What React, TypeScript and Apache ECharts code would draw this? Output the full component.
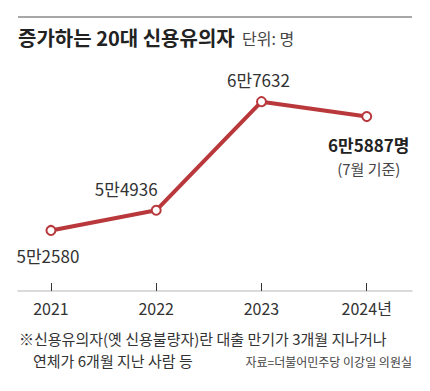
import React, { useEffect, useRef } from "react";
import * as echarts from "echarts";

const years = ["2021", "2022", "2023", "2024"];
const values = [52580, 54936, 67632, 65887];
const yearSuffix = "년";
const lastNote = "(7월 기준)";
const titleText = "증가하는 20대 신용유의자";
const unitText = "단위: 명";
const footnote1 = "※신용유의자(옛 신용불량자)란 대출 만기가 3개월 지나거나";
const footnote2 = "연체가 6개월 지난 사람 등";
const sourceText = "자료=더불어민주당 이강일 의원실";

const NARROW = "'Liberation Sans Narrow', 'Noto Sans CJK KR', sans-serif";
const CJK = "'Noto Sans CJK KR', sans-serif";
const RED = "#b9383c";

const fmt = (v: number) => `${Math.floor(v / 10000)}만${v % 10000}`;

const labelStyles: any[] = [
  { position: "bottom", offset: [-3, 6] },
  { position: "top", offset: [-30, -3] },
  { position: "top", offset: [-3, -3] },
  { position: "bottom", offset: [2, 6] },
];

export default function App() {
  const ref = useRef<HTMLDivElement>(null);
  useEffect(() => {
    if (!ref.current) return;
    const chart = echarts.init(ref.current, undefined, { renderer: "svg" });
    const last = values.length - 1;
    chart.setOption({
      animation: false,
      backgroundColor: "#ffffff",
      grid: { left: 18, right: 18, top: 60, bottom: 100, containLabel: false },
      xAxis: {
        type: "value",
        min: -0.313,
        max: 3.43,
        splitLine: { show: false },
        axisLine: { show: true, lineStyle: { color: "#cfcfcf", width: 1.5 } },
        axisTick: {
          show: true,
          inside: true,
          length: 8,
          lineStyle: { color: "#333", width: 1 },
          customValues: years.map((_, i) => i),
        },
        axisLabel: {
          show: true,
          margin: 9,
          fontFamily: NARROW,
          fontSize: 16,
          color: "#333",
          customValues: years.map((_, i) => i),
          formatter: (v: number) => {
            const i = Math.round(v);
            return years[i] + (i === last ? yearSuffix : "");
          },
        },
      },
      yAxis: { type: "value", min: 45500, max: 72500, show: false },
      series: [
        {
          type: "line",
          data: values.map((v, i) => ({
            value: [i, v],
            label: labelStyles[i],
          })),
          lineStyle: { color: RED, width: 4 },
          symbol: "circle",
          symbolSize: 9,
          itemStyle: { color: "#fff", borderColor: RED, borderWidth: 2 },
          label: {
            show: true,
            fontFamily: NARROW,
            fontSize: 17,
            color: "#333",
            formatter: (p: any) => {
              const v = p.value[1];
              if (p.dataIndex === last) {
                return `{a|${fmt(v)}명}\n{b|${lastNote}}`;
              }
              return fmt(v);
            },
            rich: {
              a: { fontFamily: NARROW, fontSize: 17, fontWeight: "bold", color: "#222", lineHeight: 22, align: "center" },
              b: { fontFamily: NARROW, fontSize: 15, color: "#444", lineHeight: 26, align: "center" },
            },
          },
          z: 3,
        },
      ],
      graphic: [
        {
          type: "line",
          shape: { x1: 18, y1: 17, x2: 412, y2: 17 },
          style: { stroke: "#8a8a8a", lineWidth: 1.5 },
        },
        {
          type: "text",
          x: 18,
          y: 37,
          style: {
            text: titleText,
            fontFamily: CJK,
            fontSize: 20,
            fontWeight: "bold",
            fill: "#222",
            textVerticalAlign: "middle",
          },
        },
        {
          type: "text",
          x: 242,
          y: 38,
          style: {
            text: unitText,
            fontFamily: CJK,
            fontSize: 16,
            fill: "#444",
            textVerticalAlign: "middle",
          },
        },
        {
          type: "text",
          x: 19,
          y: 338,
          style: { text: footnote1, fontFamily: CJK, fontSize: 15, fill: "#333", textVerticalAlign: "middle" },
        },
        {
          type: "text",
          x: 33,
          y: 360,
          style: { text: footnote2, fontFamily: CJK, fontSize: 15, fill: "#333", textVerticalAlign: "middle" },
        },
        {
          type: "text",
          x: 412,
          y: 361,
          style: {
            text: sourceText,
            fontFamily: CJK,
            fontSize: 12,
            fill: "#444",
            textAlign: "right",
            textVerticalAlign: "middle",
          },
        },
      ],
    });
    return () => chart.dispose();
  }, []);
  return <div ref={ref} style={{ width: 430, height: 391, margin: -8 }} />;
}
